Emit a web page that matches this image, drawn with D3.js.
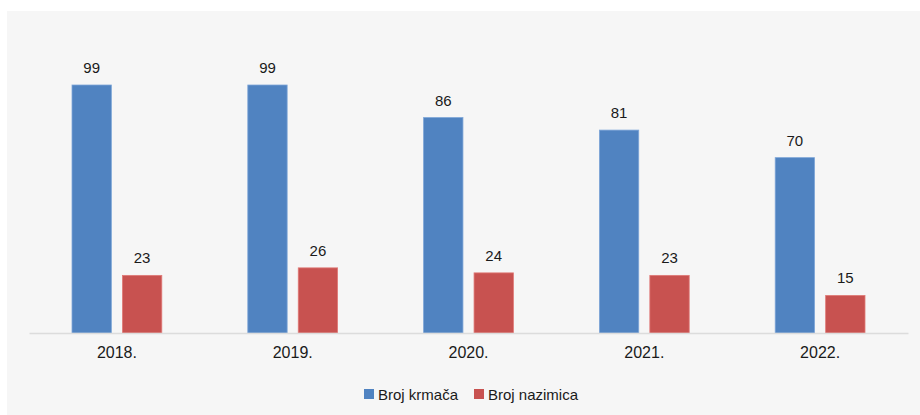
<!DOCTYPE html>
<html>
<head>
<meta charset="utf-8">
<script src="https://cdn.jsdelivr.net/npm/d3@7"></script>
<style>
  body { margin: 0; background: #fff; }
  text { font-family: "Liberation Sans", Arial, sans-serif; fill: #1a1a1a; }
</style>
</head>
<body>
<div id="chart"></div>
<script>
const years = ["2018.", "2019.", "2020.", "2021.", "2022."];
const series = ["Broj krmača", "Broj nazimica"];
const krmace = [99, 99, 86, 81, 70];
const nazimice = [23, 26, 24, 23, 15];
const colors = ["#5083c1", "#c85250"];

const width = 920, height = 415;
const margin = { top: 85, right: 12, bottom: 82, left: 29 };
const baseY = height - margin.bottom;

const svg = d3.select("#chart")
    .append("svg")
    .attr("width", width)
    .attr("height", height);

// grey panel
svg.append("rect")
    .attr("x", 7).attr("y", 11)
    .attr("width", width - 7).attr("height", height - 11)
    .attr("fill", "#f6f6f6");

const x = d3.scaleBand()
    .domain(years)
    .range([margin.left, width - margin.right])
    .paddingInner(0)
    .paddingOuter(0);

const x1 = d3.scaleBand()
    .domain(series)
    .range([43, x.bandwidth() - 43])
    .paddingInner(0.22);

const y = d3.scaleLinear()
    .domain([0, 99])
    .range([baseY, margin.top]);

const rows = years.map((yr, i) => ({ year: yr, values: [krmace[i], nazimice[i]] }));

const groups = svg.append("g")
    .selectAll("g")
    .data(rows)
    .join("g")
    .attr("transform", d => `translate(${x(d.year)},0)`);

groups.selectAll("rect")
    .data(d => d.values.map((v, j) => ({ key: series[j], v, j })))
    .join("rect")
    .attr("x", d => x1(d.key))
    .attr("y", d => y(d.v))
    .attr("width", x1.bandwidth())
    .attr("height", d => baseY - y(d.v))
    .attr("fill", d => colors[d.j])
    .attr("stroke", d => d.j === 0 ? "#7ea6d8" : "#e07a77")
    .attr("stroke-width", 0.8);

groups.selectAll("text.val")
    .data(d => d.values.map((v, j) => ({ key: series[j], v, j })))
    .join("text")
    .attr("class", "val")
    .attr("x", d => x1(d.key) + x1.bandwidth() / 2)
    .attr("y", d => y(d.v) - 12)
    .attr("text-anchor", "middle")
    .attr("font-size", 15)
    .text(d => d.v);

// axis
const axis = svg.append("g")
    .attr("transform", `translate(0,${baseY})`)
    .call(d3.axisBottom(x).tickSize(0).tickPadding(14));
axis.select(".domain").attr("stroke", "#dcdcdc").attr("stroke-width", 1.5);
axis.selectAll(".tick text").attr("font-size", 16).attr("fill", "#1a1a1a")
    .style("font-family", "'Liberation Sans', Arial, sans-serif");

// legend
const legendX = [364, 474];
const legend = svg.append("g");
series.forEach((s, i) => {
    legend.append("rect")
        .attr("x", legendX[i]).attr("y", 389)
        .attr("width", 10).attr("height", 10)
        .attr("fill", colors[i]);
    legend.append("text")
        .attr("x", legendX[i] + 14).attr("y", 400)
        .attr("font-size", 15)
        .text(s);
});
</script>
</body>
</html>
